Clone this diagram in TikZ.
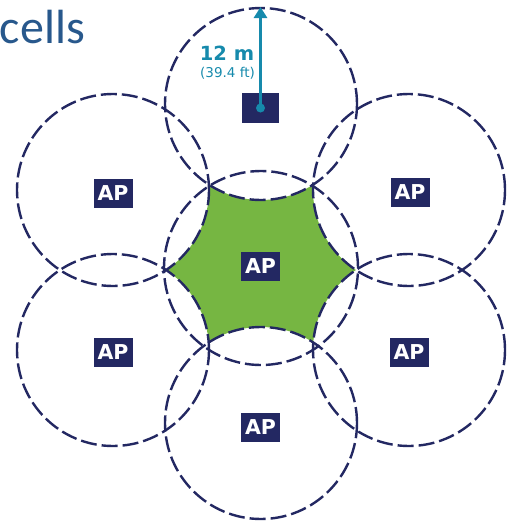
\documentclass[tikz,border=0pt]{standalone}
\usepackage{fontspec}
\setmainfont{DejaVu Sans}
\newfontfamily\titlefont{Carlito}
\usetikzlibrary{arrows.meta}
\definecolor{navy}{RGB}{35,40,98}
\definecolor{cellgreen}{RGB}{118,182,66}
\definecolor{rangeteal}{RGB}{22,138,172}
\definecolor{titleblue}{RGB}{40,88,140}
\begin{document}
\begin{tikzpicture}[x=1pt,y=-1pt,
  cellring/.style={draw=navy, line width=2.4pt, dash pattern=on 16pt off 5pt},
  apbox/.style={fill=navy, text=white, minimum width=39pt, minimum height=29pt,
    inner sep=0pt, font=\fontsize{20.5}{20}\selectfont\bfseries},
]
\useasboundingbox (0,0) rectangle (512,525);

% cell centres
\coordinate (cC)  at (261,268);
\coordinate (cT)  at (261,104);
\coordinate (cUL) at (113,190);
\coordinate (cUR) at (409,190);
\coordinate (cLL) at (113,350);
\coordinate (cLR) at (409,350);
\coordinate (cB)  at (261,423);

% area covered only by the central cell
\begin{scope}
  \clip (208.85,184.59) -- (313.15,184.59) -- (355.93,270) -- (313.29,342.49)
        -- (208.71,342.49) -- (166.07,270) -- cycle;
  \fill[cellgreen, even odd rule] (cC) circle[radius=110pt]
       (cT) circle[radius=96pt] (cUL) circle[radius=96pt]
       (cUR) circle[radius=96pt] (cLL) circle[radius=96pt]
       (cLR) circle[radius=96pt] (cB) circle[radius=96pt];
\end{scope}

% cell boundaries
\draw[cellring] (cC) circle[radius=97pt];
\foreach \c in {cT,cUL,cUR,cLL,cLR,cB}
  \draw[cellring] (\c) circle[radius=96pt];

% access points
\node[apbox] (apUL) at (113,193) {AP};
\node[apbox] (apUR) at (410,192) {AP};
\node[apbox] (apLL) at (113,352) {AP};
\node[apbox] (apLR) at (409,352) {AP};
\node[apbox] (apC)  at (260.5,266.5) {AP};
\node[apbox] (apB)  at (260.5,427.5) {AP};
\node[fill=navy, minimum width=37pt, minimum height=30pt, inner sep=0pt] (apT) at (260.5,108) {};

% cell radius
\coordinate (dot) at (260.5,108);
\coordinate (tip) at (260.5,7);
\draw[rangeteal, line width=3pt, -{Triangle[length=11pt,width=13pt]}] (dot) -- (tip);
\fill[rangeteal] (dot) circle[radius=4.5pt];
\node[text=rangeteal, font=\fontsize{19.5}{19}\selectfont\bfseries, anchor=base, inner sep=0pt] (dist) at (227,60) {12 m};
\node[text=rangeteal, font=\fontsize{13.5}{14}\selectfont, anchor=base, inner sep=0pt] (distft) at (227.5,77) {(39.4 ft)};

% heading
\node[font=\titlefont\fontsize{48}{48}\selectfont, text=titleblue, anchor=base east, inner sep=0pt] (title) at (85,43) {cells};
\end{tikzpicture}
\end{document}
